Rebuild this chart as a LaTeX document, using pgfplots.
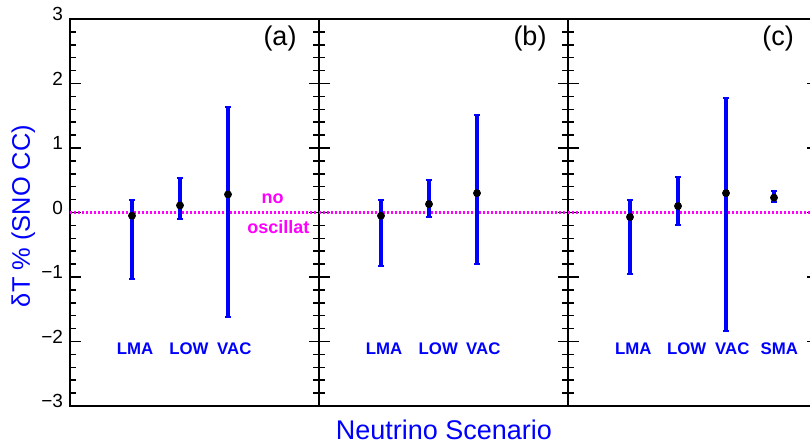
\documentclass[border=0pt]{standalone}
\usepackage{fontspec}
\setmainfont{Liberation Sans}
\usepackage{pgfplots}
\pgfplotsset{compat=1.18}
\definecolor{pblue}{RGB}{0,0,255}
\definecolor{pmag}{RGB}{255,0,255}
\pgfplotsset{
  panel/.style={
    scale only axis,
    width=124.5pt, height=193.5pt,
    anchor=south west,
    xmin=0, xmax=249, ymin=-3, ymax=3,
    xtick=\empty,
    ytick={-3,-2,-1,0,1,2,3},
    minor y tick num=4,
    ytick pos=both,
    tick align=inside,
    major tick length=5.25pt,
    minor tick length=2.9pt,
    tick style={line width=0.75pt, black},
    axis line style={line width=1pt},
    clip=false,
  },
}
\tikzset{
  zline/.style={pmag, line width=1pt, dash pattern=on 1pt off 1pt},
  cat/.style={pblue, font=\fontsize{8.4}{9}\selectfont\bfseries},
  plab/.style={font=\fontsize{13.5}{15}\selectfont},
}
\pgfplotsset{
  ebar/.style={only marks, mark=*, mark size=1.75pt, black,
    error bars/.cd, y dir=both, y explicit,
    error bar style={line width=2pt, pblue},
    error mark options={rotate=90, mark size=1.6pt, line width=1pt, pblue}},
}
\begin{document}
\begin{tikzpicture}[x=0.5pt,y=0.5pt]
\path[use as bounding box] (0,0) rectangle (810,445);
\clip (0,0) rectangle (810,445);

% panel (a)
\begin{axis}[panel, at={(35pt,19.5pt)},
  yticklabels={−3,−2,−1,0,1,2,3},
  yticklabel style={font=\fontsize{9.5}{11}\selectfont, yshift=2.5pt}]
\addplot[zline] coordinates {(0,0) (249,0)};
\addplot[ebar] table[row sep=\\, x=x, y=y, y error plus=ep, y error minus=em] {
x y ep em\\
62 -0.05 0.24 0.98\\
110 0.11 0.42 0.21\\
158 0.28 1.35 1.90\\
};
\node[plab] at (axis cs:210,2.69) {(a)};
\node[cat] at (axis cs:65,-2.105) {LMA};
\node[cat] at (axis cs:119,-2.105) {LOW};
\node[cat] at (axis cs:164.3,-2.105) {VAC};
\node[pmag, font=\fontsize{9}{10}\selectfont\bfseries] at (axis cs:202.7,0.22) {no};
\node[pmag, font=\fontsize{9}{10}\selectfont\bfseries] at (axis cs:208.3,-0.22) {oscillat};
\end{axis}

% panel (b)
\begin{axis}[panel, at={(159.5pt,19.5pt)}, yticklabels={}]
\addplot[zline] coordinates {(0,0) (249,0)};
\addplot[ebar] table[row sep=\\, x=x, y=y, y error plus=ep, y error minus=em] {
x y ep em\\
62 -0.05 0.24 0.78\\
110 0.13 0.38 0.20\\
158 0.30 1.21 1.10\\
};
\node[plab] at (axis cs:211,2.69) {(b)};
\node[cat] at (axis cs:65,-2.105) {LMA};
\node[cat] at (axis cs:119.3,-2.105) {LOW};
\node[cat] at (axis cs:164.3,-2.105) {VAC};
\end{axis}

% panel (c)
\begin{axis}[panel, at={(284pt,19.5pt)}, yticklabels={}]
\addplot[zline] coordinates {(0,0) (249,0)};
\addplot[ebar] table[row sep=\\, x=x, y=y, y error plus=ep, y error minus=em] {
x y ep em\\
62 -0.07 0.26 0.89\\
110 0.10 0.45 0.30\\
158 0.30 1.47 2.13\\
206 0.23 0.11 0.06\\
};
\node[plab] at (axis cs:210,2.69) {(c)};
\node[cat] at (axis cs:65.3,-2.105) {LMA};
\node[cat] at (axis cs:118.7,-2.105) {LOW};
\node[cat] at (axis cs:164.3,-2.105) {VAC};
\node[cat] at (axis cs:211.3,-2.105) {SMA};
\end{axis}

\node[rotate=90, pblue, font=\fontsize{12.7}{14}\selectfont] at (23.3,229) {δT \% (SNO CC)};
\node[pblue, font=\fontsize{13.5}{15}\selectfont] at (444,15) {Neutrino Scenario};
\end{tikzpicture}
\end{document}
